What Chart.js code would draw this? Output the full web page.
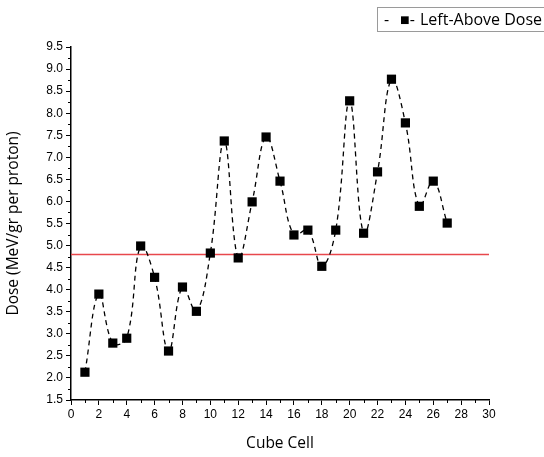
<!DOCTYPE html>
<html>
<head>
<meta charset="utf-8">
<script src="https://cdn.jsdelivr.net/npm/chart.js@4"></script>
<style>
  html, body { margin: 0; padding: 0; background: #fff; }
  #wrap { position: relative; width: 544px; height: 457px; }
  #legend {
    position: absolute; left: 377px; top: 7px; width: 180px; height: 25px;
    border: 1px solid #9a9a9a; box-sizing: border-box;
    font: 16px "Open Sans", sans-serif; color: #000; line-height: 22px;
    white-space: nowrap;
  }
  #legend span { position: absolute; top: 0; }
</style>
</head>
<body>
<div id="wrap">
  <canvas id="chart" width="544" height="457"></canvas>
  <div id="legend"><span style="left:6px">-</span><span style="left:22px">&#9632;-</span><span style="left:42px">Left-Above Dose</span></div>
</div>
<script>
/* ── Data ── */
const cells = [1,2,3,4,5,6,7,8,9,10,11,12,13,14,15,16,17,18,19,20,21,22,23,24,25,26,27];
const dose = [2.13,3.90,2.79,2.90,4.99,4.28,2.61,4.06,3.51,4.83,7.37,4.72,5.99,7.46,6.46,5.24,5.35,4.53,5.35,8.28,5.28,6.67,8.77,7.78,5.89,6.46,5.51];
const refDose = 4.8;
const xRange = [0, 30];
const yRange = [1.5, 9.5];
const seriesName = 'Left-Above Dose';

/* ── Minor ticks ── */
const minorTicks = {
  id: 'minorTicks',
  afterDraw(chart) {
    const { ctx, scales: { x, y } } = chart;
    ctx.save();
    ctx.strokeStyle = '#000';
    ctx.lineWidth = 1;
    ctx.beginPath();
    for (let v = xRange[0] + 1; v < xRange[1]; v += 2) {
      const px = Math.round(x.getPixelForValue(v)) + 0.5;
      ctx.moveTo(px, x.top); ctx.lineTo(px, x.top + 3);
    }
    for (let v = yRange[0] + 0.25; v < yRange[1]; v += 0.5) {
      const py = Math.round(y.getPixelForValue(v)) + 0.5;
      ctx.moveTo(y.right, py); ctx.lineTo(y.right - 3, py);
    }
    ctx.stroke();
    ctx.restore();
  }
};

const tickFont = { family: '"Liberation Sans", Arial, sans-serif', size: 12 };
const titleFont = { family: '"Open Sans", sans-serif', size: 15.5 };

new Chart(document.getElementById('chart'), {
  type: 'line',
  data: {
    datasets: [
      {
        label: seriesName,
        data: cells.map((c, i) => ({ x: c, y: dose[i] })),
        borderColor: '#000',
        borderWidth: 1.3,
        borderDash: [5, 4],
        tension: 0.4,
        pointStyle: 'rect',
        pointRadius: 6.5,
        pointBackgroundColor: '#000',
        pointBorderColor: '#000',
        pointBorderWidth: 0,
        order: 0
      },
      {
        label: 'ref',
        data: xRange.map(v => ({ x: v, y: refDose })),
        borderColor: '#e8474c',
        borderWidth: 1.5,
        pointRadius: 0,
        tension: 0,
        order: 1
      }
    ]
  },
  options: {
    responsive: false,
    animation: false,
    layout: { padding: { top: 47, right: 55, left: 0, bottom: 0 } },
    plugins: { legend: { display: false }, tooltip: { enabled: false } },
    scales: {
      x: {
        type: 'linear',
        min: xRange[0], max: xRange[1],
        border: { color: '#000', width: 1.5 },
        grid: { drawOnChartArea: false, color: '#000', tickLength: 5 },
        ticks: { stepSize: 2, color: '#000', font: tickFont, maxRotation: 0, padding: 2 },
        title: { display: true, text: 'Cube Cell', color: '#000', font: titleFont, padding: { top: 8 } },
        afterFit: s => { s.height = 57; }
      },
      y: {
        type: 'linear',
        min: yRange[0], max: yRange[1],
        border: { color: '#000', width: 1.5 },
        grid: { drawOnChartArea: false, color: '#000', tickLength: 5 },
        ticks: { stepSize: 0.5, color: '#000', font: tickFont, padding: 3, callback: v => v.toFixed(1) },
        title: { display: true, text: 'Dose (MeV/gr per proton)', color: '#000', font: titleFont, padding: { bottom: 4 } },
        afterFit: s => { s.width = 71; }
      }
    }
  },
  plugins: [minorTicks]
});
</script>
</body>
</html>
